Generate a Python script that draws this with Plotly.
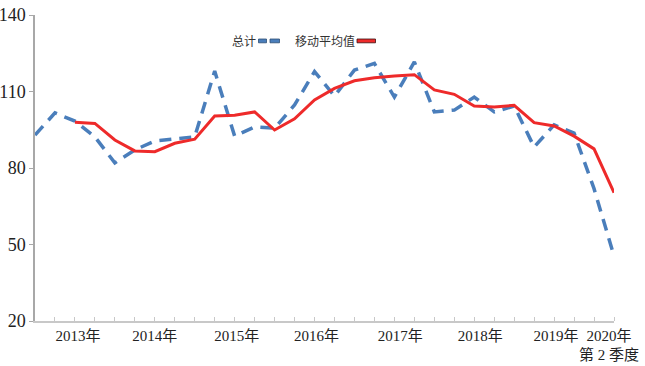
import numpy as np
import plotly.graph_objects as go

# ---- data ----
quarters = [f"{y}Q{q}" for y in range(2013, 2021) for q in range(1, 5)][:30]
total = [92.9, 101.6, 98.4, 92.2, 82.0, 87.1, 90.6, 91.4, 92.2, 118.0,
         92.5, 96.1, 95.6, 104.7, 117.8, 108.2, 118.4, 121.0, 107.8, 121.6,
         102.0, 102.7, 107.8, 102.0, 104.3, 88.2, 96.9, 93.7, 71.9, 45.5]
moving_avg = [None, None, 97.9, 97.5, 91.0, 86.7, 86.4, 89.7, 91.3, 100.4,
              100.7, 102.0, 94.9, 99.3, 106.7, 111.2, 114.2, 115.4, 116.1, 116.6,
              110.6, 108.9, 104.3, 103.9, 104.6, 97.8, 96.5, 92.5, 87.5, 70.3]
year_label_pos = [2.15, 6.0, 10.1, 14.1, 18.3, 22.3, 26.1, 28.75]
year_labels = ["2013年", "2014年", "2015年", "2016年", "2017年", "2018年",
               "2019年", "2020年<br>第 2 季度"]
yticks = [20, 50, 80, 110, 140]
series_names = ["总计", "移动平均值"]

W, H = 645, 366
ML, MR, MT, MB = 35, 31, 15, 45
BLUE = "#4a7ebb"
RED = "#ee2a2a"

x = np.arange(len(quarters))

fig = go.Figure()
fig.add_trace(go.Scatter(
    x=x, y=total, mode="lines", name=series_names[0], customdata=quarters,
    line=dict(color=BLUE, width=3.5, dash="12px,8px"),
    hovertemplate="%{customdata}: %{y}<extra></extra>"))
fig.add_trace(go.Scatter(
    x=x, y=moving_avg, mode="lines", name=series_names[1], customdata=quarters,
    line=dict(color=RED, width=3), connectgaps=False,
    hovertemplate="%{customdata}: %{y}<extra></extra>"))

pw = W - ML - MR
ph = H - MT - MB


def px_x(p):
    return (p - ML) / pw


def px_y(p):
    return (H - MB - p) / ph


# manual legend: text followed by its swatch
legend_font = dict(family="Noto Sans CJK SC, sans-serif", size=12, color="#333333")
annotations = [
    dict(x=px_x(257.5), y=px_y(40.5), xref="paper", yref="paper", text=series_names[0],
         showarrow=False, xanchor="right", yanchor="middle", font=legend_font),
    dict(x=px_x(356.5), y=px_y(40.5), xref="paper", yref="paper", text=series_names[1],
         showarrow=False, xanchor="right", yanchor="middle", font=legend_font),
]
shapes = []
for (x0, x1) in [(258.5, 266.5), (270.0, 279.5)]:
    shapes.append(dict(type="rect", xref="paper", yref="paper",
                       x0=px_x(x0), x1=px_x(x1), y0=px_y(42.8), y1=px_y(39.0),
                       fillcolor=BLUE, line=dict(color="#2f4f73", width=0.8)))
shapes.append(dict(type="rect", xref="paper", yref="paper",
                   x0=px_x(357.0), x1=px_x(375.5), y0=px_y(42.8), y1=px_y(39.0),
                   fillcolor=RED, line=dict(color="#3a1010", width=0.8)))

fig.update_layout(
    width=W, height=H,
    margin=dict(l=ML, r=MR, t=MT, b=MB, pad=0, autoexpand=False),
    plot_bgcolor="white", paper_bgcolor="white",
    showlegend=False,
    annotations=annotations, shapes=shapes,
    font=dict(family="Liberation Serif, Noto Sans CJK SC, serif", color="#222222"),
)
fig.update_xaxes(
    range=[0, len(quarters) - 1], showgrid=False, zeroline=False, automargin=False,
    showline=True, linecolor="#c8c8c8", linewidth=1.5,
    tickmode="array", tickvals=year_label_pos, ticktext=year_labels, tickangle=0,
    ticks="", ticklabelstandoff=0,
    tickfont=dict(size=15, family="Liberation Serif, Noto Sans CJK SC, serif",
                  color="#222222"),
    minor=dict(ticks="inside", ticklen=4, tickcolor="#c8c8c8", tickwidth=1,
               tickvals=list(range(1, len(quarters))), showgrid=False),
)
fig.update_yaxes(
    range=[20, 140], showgrid=False, zeroline=False, automargin=False,
    showline=True, linecolor="#a8a8a8", linewidth=1.5,
    tickmode="array", tickvals=yticks, ticks="outside", ticklen=4,
    tickcolor="#a8a8a8",
    tickfont=dict(size=18, family="Liberation Serif, serif", color="#222222"),
)

fig.write_html("out.html", config={"displayModeBar": False},
               post_script="document.body.style.margin='0';document.body.style.overflow='hidden';")
